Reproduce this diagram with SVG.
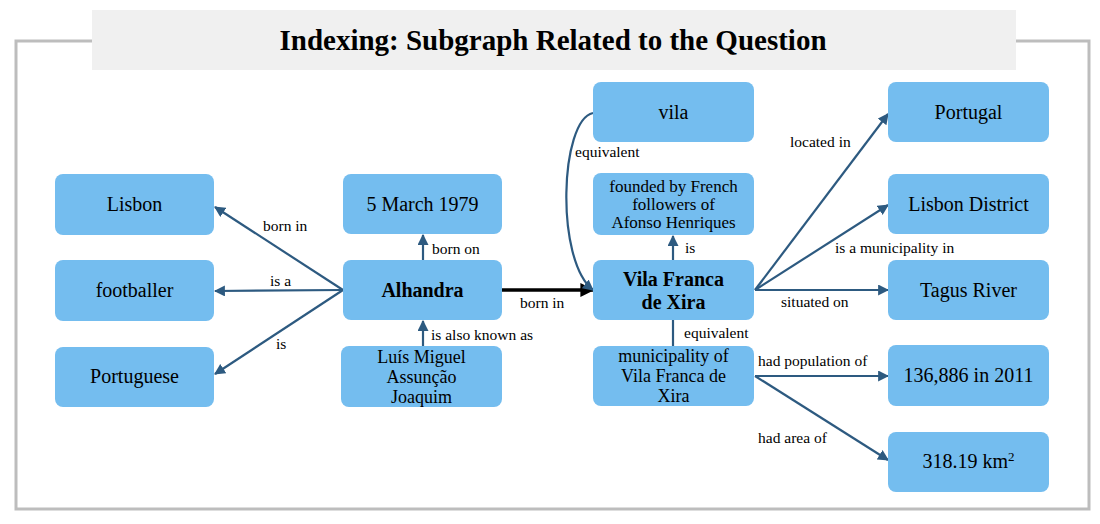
<svg xmlns="http://www.w3.org/2000/svg" width="1100" height="524" viewBox="0 0 1100 524">
<style>
.node rect{fill:#74BDEF;}
.t{font-family:"Liberation Serif","Times New Roman",serif;font-size:20px;fill:#000;text-anchor:middle;}
.tm{font-family:"Liberation Serif","Times New Roman",serif;font-size:18px;fill:#000;text-anchor:middle;}
.ts{font-family:"Liberation Serif","Times New Roman",serif;font-size:17px;fill:#000;text-anchor:middle;}
.b{font-weight:bold;}
.lbl{font-family:"Liberation Serif","Times New Roman",serif;font-size:15.5px;fill:#000;}
.e{stroke:#2D5A80;stroke-width:2.2;fill:none;}
</style>
<defs>
<marker id="ah" viewBox="0 0 10 10" refX="9" refY="5" markerWidth="5" markerHeight="5" orient="auto" markerUnits="strokeWidth">
<path d="M0,0 L10,5 L0,10 z" fill="#2D5A80"/>
</marker>
<marker id="ahk" viewBox="0 0 10 10" refX="9" refY="5" markerWidth="4" markerHeight="4" orient="auto" markerUnits="strokeWidth">
<path d="M0,0 L10,5 L0,10 z" fill="#000"/>
</marker>
</defs>
<rect x="0" y="0" width="1100" height="524" fill="#fff"/>
<rect x="16" y="41" width="1073" height="468" fill="none" stroke="#BDBDBD" stroke-width="3"/>
<g id="title">
<rect x="92" y="10" width="924" height="60" fill="#F0F0F0"/>
<text x="553" y="50" font-family="'Liberation Serif','Times New Roman',serif" font-size="29" font-weight="bold" text-anchor="middle" fill="#000">Indexing: Subgraph Related to the Question</text>
</g>
<g id="connectors">
<line class="e" x1="343" y1="290" x2="215" y2="207" marker-end="url(#ah)"/>
<line class="e" x1="343" y1="290" x2="215" y2="291" marker-end="url(#ah)"/>
<line class="e" x1="343" y1="290" x2="215" y2="374" marker-end="url(#ah)"/>
<line class="e" x1="423" y1="260" x2="423" y2="235" marker-end="url(#ah)"/>
<line class="e" x1="423" y1="346" x2="423" y2="321" marker-end="url(#ah)"/>
<line x1="502" y1="290" x2="593" y2="290" stroke="#000" stroke-width="3.5" marker-end="url(#ahk)"/>
<path class="e" d="M593,113 C560,120 555,260 593,290" marker-end="url(#ah)"/>
<line class="e" x1="673" y1="260" x2="673" y2="236" marker-end="url(#ah)"/>
<line class="e" x1="673" y1="320" x2="673" y2="346"/>
<line class="e" x1="755" y1="290" x2="888" y2="114" marker-end="url(#ah)"/>
<line class="e" x1="755" y1="290" x2="888" y2="205" marker-end="url(#ah)"/>
<line class="e" x1="755" y1="290" x2="888" y2="290" marker-end="url(#ah)"/>
<line class="e" x1="755" y1="376" x2="888" y2="376" marker-end="url(#ah)"/>
<line class="e" x1="755" y1="376" x2="888" y2="460" marker-end="url(#ah)"/>
<text class="lbl" x="263" y="231">born in</text>
<text class="lbl" x="270" y="286">is a</text>
<text class="lbl" x="276" y="349">is</text>
<text class="lbl" x="432" y="254">born on</text>
<text class="lbl" x="431" y="340">is also known as</text>
<text class="lbl" x="520" y="308">born in</text>
<text class="lbl" x="575" y="157">equivalent</text>
<text class="lbl" x="685" y="253">is</text>
<text class="lbl" x="684" y="338">equivalent</text>
<text class="lbl" x="790" y="147">located in</text>
<text class="lbl" x="835" y="253">is a municipality in</text>
<text class="lbl" x="781" y="307">situated on</text>
<text class="lbl" x="758" y="366">had population of</text>
<text class="lbl" x="758" y="443">had area of</text>
</g>
<g id="n-lisbon" class="node"><rect x="55" y="174" width="159" height="61" rx="8"/><text class="t" x="134.5" y="211">Lisbon</text></g>
<g id="n-footballer" class="node"><rect x="55" y="260" width="159" height="61" rx="8"/><text class="t" x="134.5" y="297">footballer</text></g>
<g id="n-portuguese" class="node"><rect x="55" y="347" width="159" height="60" rx="8"/><text class="t" x="134.5" y="383">Portuguese</text></g>
<g id="n-date" class="node"><rect x="343" y="174" width="159" height="60" rx="8"/><text class="t" x="422.5" y="211">5 March 1979</text></g>
<g id="n-alhandra" class="node"><rect x="343" y="260" width="159" height="60" rx="8"/><text class="t b" x="422.5" y="297">Alhandra</text></g>
<g id="n-luis" class="node"><rect x="341" y="346" width="161" height="61" rx="8"/><text class="tm" x="421.5" y="363">Luís Miguel</text><text class="tm" x="421.5" y="383">Assunção</text><text class="tm" x="421.5" y="403">Joaquim</text></g>
<g id="n-vila" class="node"><rect x="593" y="82" width="161" height="60" rx="8"/><text class="t" x="673.5" y="119">vila</text></g>
<g id="n-founded" class="node"><rect x="593" y="173" width="161" height="62" rx="8"/><text class="ts" x="673.5" y="192">founded by French</text><text class="ts" x="673.5" y="210">followers of</text><text class="ts" x="673.5" y="228">Afonso Henriques</text></g>
<g id="n-vfx" class="node"><rect x="593" y="260" width="161" height="60" rx="8"/><text class="t b" x="673.5" y="286">Vila Franca</text><text class="t b" x="673.5" y="309">de Xira</text></g>
<g id="n-muni" class="node"><rect x="593" y="346" width="161" height="60" rx="8"/><text class="tm" x="673.5" y="362">municipality of</text><text class="tm" x="673.5" y="382">Vila Franca de</text><text class="tm" x="673.5" y="402">Xira</text></g>
<g id="n-portugal" class="node"><rect x="888" y="82" width="161" height="60" rx="8"/><text class="t" x="968.5" y="119">Portugal</text></g>
<g id="n-lisbondistrict" class="node"><rect x="888" y="174" width="161" height="60" rx="8"/><text class="t" x="968.5" y="211">Lisbon District</text></g>
<g id="n-tagus" class="node"><rect x="888" y="260" width="161" height="60" rx="8"/><text class="t" x="968.5" y="297">Tagus River</text></g>
<g id="n-pop" class="node"><rect x="888" y="345" width="161" height="61" rx="8"/><text class="t" x="968.5" y="382">136,886 in 2011</text></g>
<g id="n-area" class="node"><rect x="888" y="432" width="161" height="60" rx="8"/><text class="t" x="968.5" y="468">318.19 km<tspan font-size="13" dy="-7">2</tspan></text></g>
</svg>
